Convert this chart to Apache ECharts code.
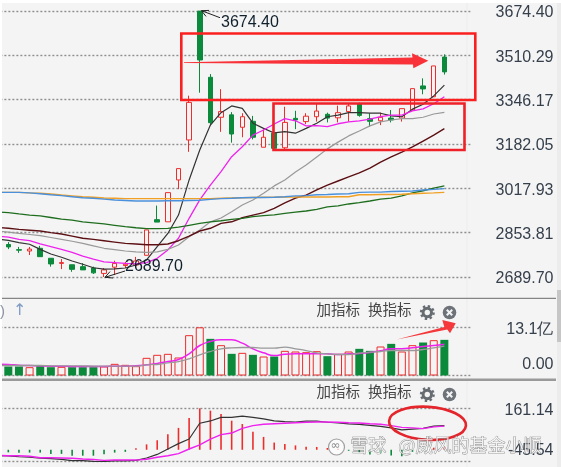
<!DOCTYPE html>
<html><head><meta charset="utf-8">
<style>html,body{margin:0;padding:0;background:#fff}#c{width:561px;height:467px}</style>
<script src="https://cdn.jsdelivr.net/npm/echarts@6/dist/echarts.min.js"></script>
</head><body><div id="c"></div>
<script>
const priceTicks = [2689.70, 2853.81, 3017.93, 3182.05, 3346.17, 3510.29, 3674.40];
const volumeTicks = [0, 13.1];
const macdTicks = [-45.54, 161.14];
const slots = 45;
const categories = Array.from({length: slots}, (_, i) => 'K' + i);
const E = null;

// [open, close, low, high]; the first slot is the session before the visible window
const candles = [
[E,E,E,E],
[2810,2801,2793,2819],[2791,2789,2779,2801],[2786,2793,2771,2801],[2796,2765,2765,2805],[2759,2738,2728,2759],
[2740,2743,2719,2756],[2735,2718,2709,2735],[2728,2716,2716,2741],[2723,2705,2701,2728],[2703,2716,2689.7,2723],
[2726,2740,2697,2750],[2732,2737,2723,2746],[2734,2749,2728,2764],[2770,2864,2770,2864],[2902,2893,2893,2954],
[2894,3002,2894,3002],[3049,3091,3015,3091],[3197,3336,3153,3361],[3674,3493,3372,3674.4],[3429,3261,3251,3441],
[3281,3302,3227,3385],[3290,3219,3187,3300],[3244,3283,3207,3296],[3266,3207,3199,3286],[3170,3207,3170,3236],
[3222,3166,3166,3225],[3168,3262,3157,3320],[3277,3271,3237,3305],[3265,3285,3256,3296],[3283,3304,3265,3333],
[3292,3278,3262,3298],[3279,3298,3262,3324],[3302,3323,3265,3333],[3330,3288,3283,3335],[3276,3266,3246,3296],
[3268,3281,3252,3298],[3278,3271,3262,3308],[3278,3313,3265,3313],[3308,3387,3308,3387],[3397,3386,3366,3425],
[3357,3471,3357,3471],[3504,3449,3439,3514]];
const ma5 = [2830,2825,2817,2811,2792,2775,2763,2749,2737,2724,2719,2720,2723,2734,2753,2802,2851,2919,3049,3160,3252,3298,3323,3314,3259,3240,3223,3228,3222,3240,3259,3283,3289,3298,3298,3296,3296,3286,3283,3311,3329,3360,3400];
const ma10 = [2841,2837,2829,2824,2812,2802,2792,2781,2767,2756,2746,2743,2740,2738,2743,2759,2790,2833,2907,2975,3030,3080,3135,3172,3215,3234,3256,3276,3268,3249,3250,3246,3257,3264,3268,3274,3283,3289,3289,3305,3312,3331,3357];
const ma20 = [2860,2856,2851,2847,2843,2836,2829,2822,2814,2805,2796,2791,2786,2783,2781,2783,2792,2808,2839,2864,2894,2908,2931,2956,2975,3000,3027,3049,3078,3104,3134,3164,3189,3212,3230,3249,3264,3271,3276,3276,3281,3293,3299];
const ma30 = [2873,2870,2866,2863,2860,2854,2849,2841,2833,2829,2824,2819,2814,2812,2809,2809,2812,2824,2841,2860,2870,2888,2894,2909,2919,2928,2944,2964,2982,2993,3012,3030,3045,3060,3075,3093,3115,3134,3152,3171,3193,3215,3239];
const ma60 = [2930,2928,2923,2919,2916,2910,2904,2900,2894,2890,2886,2881,2876,2872,2869,2869,2870,2874,2881,2888,2894,2898,2903,2907,2913,2917,2920,2925,2930,2934,2940,2949,2953,2960,2965,2971,2978,2982,2990,3001,3009,3019,3027];
const ma120 = [3003,3003,3003,3001,2998,2994,2991,2987,2983,2981,2978,2975,2973,2971,2971,2971,2972,2972,2973,2974,2977,2980,2981,2983,2984,2984,2985,2987,2990,2991,2994,2995,2997,2998,3003,3004,3004,3006,3007,3008,3012,3014,3017];
const ma250 = [3003,3003,3003,3001,3000,2997,2993,2990,2987,2985,2982,2981,2980,2980,2980,2980,2980,2980,2980,2980,2980,2981,2982,2983,2984,2985,2985,2986,2986,2986,2986,2986,2987,2987,2994,2994,2995,2995,2996,2998,3000,3001,3003];

const volume = [E,2.45,2.45,2.26,2.54,2.26,2.36,2.26,2.26,2.26,2.45,3.17,2.9,2.54,4.8,5.62,5.89,4.89,10.96,13.1,9.96,8.24,5.89,6.16,5.62,5.16,5.16,6.7,6.52,6.34,6.61,5.25,5.89,6.52,7.25,6.7,7.88,8.6,6.52,8.24,8.97,9.6,9.69];
const volumeUp = [0,0,0,1,0,0,1,0,0,0,1,1,1,1,1,1,1,1,1,1,0,1,0,1,0,1,0,1,1,1,1,0,1,1,0,0,1,0,1,1,0,1,0];
const volMa5 = [3.08,2.99,2.81,2.72,2.63,2.54,2.54,2.45,2.45,2.45,2.45,2.54,2.54,2.63,2.9,3.26,3.8,4.35,5.89,8.15,9.24,9.69,9.69,8.79,7.25,6.16,5.43,5.8,5.89,5.89,5.89,5.89,5.71,5.89,5.98,6.25,6.7,7.25,7.25,7.52,7.88,8.15,8.51];
const volMa10 = [2.72,2.72,2.72,2.72,2.72,2.63,2.63,2.63,2.63,2.54,2.54,2.54,2.54,2.54,2.9,2.99,3.44,3.8,4.53,5.62,6.52,7.25,7.52,7.61,7.61,7.43,7.43,7.7,7.25,6.79,6.16,5.89,5.71,5.71,6.07,6.34,6.52,6.79,6.79,6.79,7.07,7.52,7.97];

const macdBars = [E,-10,-12,-11,-11,-16,-16,-23,-23,-23,-17,-11,-8,6,21,37,60,85,123,161,152,139,113,100,70,50,28,22,17,12,11,7,4,-4,-12,-18,-14,-22,-25,-8,-4,8,12];
const dif = [-23,-24,-27,-29,-33,-34,-37,-42,-42,-45,-45.5,-43,-43,-41,-32,-18,3,24,42,103,112,126,126,131,126,120,112,109,108,111,111,107,104,101,99,95,91,85,77,80,83,92,94];
const dea = [-22,-23,-23,-25,-31,-31,-32,-33,-36,-38,-41,-40,-40,-40,-37,-29,-23,-15,3,19,41,59,65,83,94,99,101,103,105,107,108,108,107,105,104,101,99,94,87,85,82,89,92];

const RED = '#ee2c2c', GREEN = '#0c8a3c', PANEL = '#f4f4f4';
const FONT = '"Liberation Sans", Arial, sans-serif';
const CJK = '"Noto Sans CJK SC", sans-serif';
const gridLeft = -7.64, gridWidth = 478.6;

const chart = echarts.init(document.getElementById('c'), null, {renderer: 'canvas'});

const labelBase = {color: '#36404c', fontFamily: FONT, fontSize: 16};
const valueAxis = (gridIndex, min, max, ticks, fmt, minAlign) => ({
  type: 'value', gridIndex, min, max, position: 'right', scale: true,
  axisLine: {show: false},
  axisTick: {show: false, customValues: ticks},
  axisLabel: Object.assign({
    customValues: ticks, formatter: fmt, margin: 82.5, align: 'right',
    verticalAlignMaxLabel: 'middle', verticalAlignMinLabel: minAlign || 'middle',
    padding: [4, 0, 0, 0],
    rich: {
      lowV: Object.assign({lineHeight: 22}, labelBase),
      lowM: Object.assign({lineHeight: 21}, labelBase)
    }
  }, labelBase),
  splitLine: {show: false}
});
// Dotted level lines, one per tick, drawn by the axis scale
const tickLevels = ticks => ({
  silent: true, symbol: 'none', animation: false, z: 1,
  label: {show: false},
  lineStyle: {color: '#8e8e8e', type: [2, 2], width: 1.4},
  emphasis: {disabled: true},
  data: ticks.map(v => ({yAxis: v}))
});
const catAxis = gridIndex => ({
  type: 'category', gridIndex, data: categories, boundaryGap: true,
  axisLine: {show: false}, axisTick: {show: false}, axisLabel: {show: false}, splitLine: {show: false}
});
const line = (name, data, color, xi, width, smooth) => ({
  name, type: 'line', data, xAxisIndex: xi, yAxisIndex: xi, symbol: 'none', silent: true,
  smooth: !!smooth, lineStyle: {color, width: width || 1.2}, z: 5
});

const button = y => ([
  {type: 'text', left: 316.5, top: y - 10, style: {text: '加指标', font: '14.5px ' + CJK, fill: '#454545'}},
  {type: 'text', left: 368, top: y - 10, style: {text: '换指标', font: '14.5px ' + CJK, fill: '#454545'}},
  {type: 'circle', shape: {cx: 427.3, cy: y, r: 6.3}, style: {fill: 'none', stroke: '#666c72', lineWidth: 2.4, lineDash: [2.4, 2.5]}},
  {type: 'circle', shape: {cx: 427.3, cy: y, r: 4.2}, style: {fill: 'none', stroke: '#666c72', lineWidth: 3}},
  {type: 'circle', shape: {cx: 449.5, cy: y, r: 6.8}, style: {fill: '#6e7379'}},
  {type: 'line', shape: {x1: 446.8, y1: y - 2.8, x2: 452.2, y2: y + 2.8}, style: {stroke: '#f4f4f4', lineWidth: 2}},
  {type: 'line', shape: {x1: 452.2, y1: y - 2.8, x2: 446.8, y2: y + 2.8}, style: {stroke: '#f4f4f4', lineWidth: 2}}
]);

const frame = [
  {type: 'rect', shape: {x: 0, y: 0, width: 561, height: 3}, style: {fill: '#fff'}, z: 20},
  {type: 'rect', shape: {x: 0, y: 0, width: 2, height: 467}, style: {fill: '#fff'}, z: 20},
  {type: 'line', shape: {x1: 467, y1: 3, x2: 467, y2: 467}, style: {stroke: '#ececec', lineWidth: 1}},
  {type: 'rect', shape: {x: 557, y: 3, width: 4, height: 287}, style: {fill: '#ececec'}},
  {type: 'rect', shape: {x: 557, y: 290, width: 4, height: 52}, style: {fill: '#c6c6c6'}},
  {type: 'rect', shape: {x: 557, y: 342, width: 4, height: 125}, style: {fill: '#ececec'}},
  {type: 'line', shape: {x1: 2, y1: 298.3, x2: 556, y2: 298.3}, style: {stroke: '#858585', lineWidth: 1.2}},
  {type: 'line', shape: {x1: 2, y1: 379.7, x2: 556, y2: 379.7}, style: {stroke: '#9a9a9a', lineWidth: 2.4}}
];

const marks = [
  {type: 'text', left: 0, top: 304, style: {text: ')', font: '15px ' + FONT, fill: '#8a94a6'}, z: 21},
  {type: 'text', left: 13, top: 303, style: {text: '↑', font: '16px "DejaVu Sans"', fill: '#7f9cc4'}},
  ...button(312.5), ...button(394.5),
  {type: 'text', left: 221, top: 15, style: {text: '3674.40', font: '16px ' + FONT, fill: '#10202c'}, z: 25},
  {type: 'text', left: 125, top: 259, style: {text: '2689.70', font: '16px ' + FONT, fill: '#10202c'}, z: 25},
  {type: 'polyline', shape: {points: [[220, 17.7], [201.5, 10.7]]}, style: {stroke: '#222', lineWidth: 1, fill: 'none'}, z: 25},
  {type: 'polyline', shape: {points: [[209, 10.4], [201.5, 10.7], [206, 16.4]]}, style: {stroke: '#222', lineWidth: 1, fill: 'none'}, z: 25},
  {type: 'polyline', shape: {points: [[125, 271], [105, 277.3]]}, style: {stroke: '#222', lineWidth: 1, fill: 'none'}, z: 25},
  {type: 'polyline', shape: {points: [[110, 271.6], [105, 277.3], [113, 278]]}, style: {stroke: '#222', lineWidth: 1, fill: 'none'}, z: 25},
  {type: 'rect', shape: {x: 181.3, y: 33.5, width: 294, height: 66.5}, style: {fill: 'none', stroke: '#fb2020', lineWidth: 2.6}, z: 30},
  {type: 'rect', shape: {x: 273.5, y: 103.5, width: 191, height: 46.5}, style: {fill: 'none', stroke: '#ee2028', lineWidth: 2.6}, z: 30},
  {type: 'polygon', shape: {points: [[184, 62.2], [412.5, 57.5], [412, 53.3], [428.3, 60.7], [413.3, 68.3], [413, 64.5], [184, 62.9]]}, style: {fill: '#f83238'}, z: 30},
  {type: 'polygon', shape: {points: [[396.7, 339.5], [444.3, 327], [442.3, 320], [455.7, 323.3], [450, 333.3], [447.3, 329.5]]}, style: {fill: '#f4383c'}, z: 30},
  {type: 'ellipse', shape: {cx: 427.5, cy: 423.3, rx: 38.5, ry: 16.5}, rotation: -0.06, originX: 427.5, originY: 423.3, style: {fill: 'none', stroke: '#e4252c', lineWidth: 2.6}, z: 30},
  {type: 'circle', shape: {cx: 336.5, cy: 447, r: 8}, style: {fill: 'rgba(255,255,255,.65)', stroke: 'rgba(120,120,120,.7)', lineWidth: 1.2}, z: 40},
  {type: 'text', left: 330.5, top: 440, style: {text: '∞', font: '12px "DejaVu Sans"', fill: 'rgba(120,120,120,.85)'}, z: 41},
  {type: 'text', left: 350, top: 436, style: {text: '雪球', font: '18px ' + CJK, fill: 'rgba(255,255,255,.72)', stroke: 'rgba(90,90,90,.75)', lineWidth: 0.7}, z: 41},
  {type: 'text', left: 398, top: 436, style: {text: '@威风的基金小顺', font: '18px ' + CJK, fill: 'rgba(255,255,255,.72)', stroke: 'rgba(90,90,90,.75)', lineWidth: 0.7}, z: 41}
];

chart.setOption({
  animation: false,
  backgroundColor: PANEL,
  tooltip: {show: false},
  legend: {show: false},
  graphic: frame.concat(marks),
  grid: [
    {left: gridLeft, width: gridWidth, top: 11, height: 266, outerBoundsMode: 'none'},
    {left: gridLeft, width: gridWidth, top: 327.3, height: 48.2, outerBoundsMode: 'none'},
    {left: gridLeft, width: gridWidth, top: 408.3, height: 53.2, outerBoundsMode: 'none'}
  ],
  xAxis: [catAxis(0), catAxis(1), catAxis(2)],
  yAxis: [
    valueAxis(0, 2689.70, 3674.40, priceTicks, v => v.toFixed(2)),
    valueAxis(1, 0, 13.1, volumeTicks, v => v === 0 ? '{lowV|0.00}' : v + '亿', 'bottom'),
    valueAxis(2, -45.54, 161.14, macdTicks, v => v < 0 ? '{lowM|' + v.toFixed(2) + '}' : v.toFixed(2), 'bottom')
  ],
  series: [
    {
      name: 'K', type: 'candlestick', data: candles, xAxisIndex: 0, yAxisIndex: 0, barWidth: 5, silent: true,
      itemStyle: {color: PANEL, color0: GREEN, borderColor: RED, borderColor0: GREEN, borderWidth: 1}, z: 3,
      markLine: tickLevels(priceTicks)
    },
    line('MA5', ma5, '#333333', 0, 1.2),
    line('MA10', ma10, '#ee22ee', 0, 1.3),
    line('MA20', ma20, '#999999', 0, 1.2),
    line('MA30', ma30, '#5c1014', 0, 1.4),
    line('MA60', ma60, '#1f6e1f', 0, 1.3),
    line('MA120', ma250, '#f0a024', 0, 1.4),
    line('MA250', ma120, '#4a90dc', 0, 1.4),
    {
      name: 'VOL', type: 'bar', xAxisIndex: 1, yAxisIndex: 1, barWidth: 8, silent: true, z: 3,
      markLine: tickLevels(volumeTicks),
      data: volume.map((v, i) => ({
        value: v,
        itemStyle: volumeUp[i]
          ? {color: 'rgba(244,244,244,.6)', borderColor: RED, borderWidth: 1}
          : {color: GREEN, borderColor: GREEN, borderWidth: 0}
      }))
    },
    line('VOL5', volMa5, '#ee22ee', 1, 1.5, true),
    line('VOL10', volMa10, '#999999', 1, 1.3, true),
    {
      name: 'MACD', type: 'bar', xAxisIndex: 2, yAxisIndex: 2, barWidth: 1.6, silent: true, z: 3,
      markLine: tickLevels(macdTicks),
      data: macdBars.map(v => ({value: v, itemStyle: {color: v >= 0 ? RED : GREEN}}))
    },
    line('DIF', dif, '#333333', 2, 1.2),
    line('DEA', dea, '#ee22ee', 2, 1.4)
  ]
});
</script></body></html>
